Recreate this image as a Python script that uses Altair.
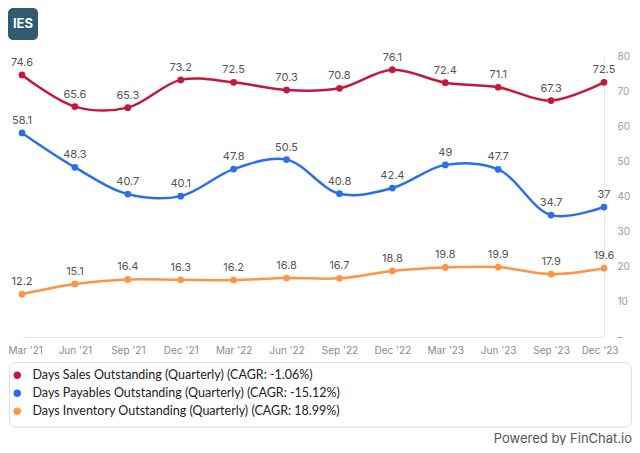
import altair as alt
import pandas as pd

quarters = ["Mar '21", "Jun '21", "Sep '21", "Dec '21", "Mar '22", "Jun '22",
            "Sep '22", "Dec '22", "Mar '23", "Jun '23", "Sep '23", "Dec '23"]
dso = [74.6, 65.6, 65.3, 73.2, 72.5, 70.3, 70.8, 76.1, 72.4, 71.1, 67.3, 72.5]
dpo = [58.1, 48.3, 40.7, 40.1, 47.8, 50.5, 40.8, 42.4, 49, 47.7, 34.7, 37]
dio = [12.2, 15.1, 16.4, 16.3, 16.2, 16.8, 16.7, 18.8, 19.8, 19.9, 17.9, 19.6]
series_names = [
    "Days Sales Outstanding (Quarterly) (CAGR: -1.06%)",
    "Days Payables Outstanding (Quarterly) (CAGR: -15.12%)",
    "Days Inventory Outstanding (Quarterly) (CAGR: 18.99%)",
]
colors = ["#C4173B", "#2B6EEA", "#FF9445"]

rows = []
for name, vals in zip(series_names, [dso, dpo, dio]):
    for q, v in zip(quarters, vals):
        rows.append({"quarter": q, "value": v, "series": name, "label": f"{v:g}"})
df = pd.DataFrame(rows)

FONT = "Inter"
LFONT = "Lato"
PL, PT = 14, 48          # plot origin inside the view
W, H = 582, 281

x_enc = alt.X("quarter:O", sort=quarters,
              scale=alt.Scale(type="point", padding=0),
              axis=alt.Axis(title=None, labelAngle=0, labelFontSize=10, labelColor="#8a8a8a",
                            labelFont=FONT, ticks=False, domainColor="#e8e8e8",
                            labelPadding=8, grid=False, labelFlush=True,
                            labelFlushOffset=14))
y_enc = alt.Y("value:Q", scale=alt.Scale(domain=[0, 80], nice=False),
              axis=alt.Axis(title=None, orient="right", values=list(range(0, 81, 10)),
                            labelExpr="datum.value == 0 ? '–' : datum.label",
                            labelFontSize=10, labelColor="#9a9a9a", labelFont=FONT,
                            ticks=False, domainColor="#e8e8e8", labelPadding=13,
                            grid=False, labelAlign="left"))
color_scale = alt.Scale(domain=series_names, range=colors)
legend = alt.Legend(title=None, orient="none", legendX=-11, legendY=313,
                    symbolType="circle", symbolSize=55, zindex=2, padding=0,
                    symbolStrokeWidth=0, symbolOpacity=1,
                    labelFontSize=12.5, labelFont=LFONT, labelColor="#222",
                    rowPadding=5, labelOffset=9, labelLimit=600)

base = alt.Chart(df)

lines = base.mark_line(interpolate="catmull-rom", strokeWidth=2.5).encode(
    x=x_enc, y=y_enc,
    color=alt.Color("series:N", scale=color_scale, legend=legend),
)
points = base.mark_circle(size=45, opacity=1).encode(
    x=x_enc, y=y_enc,
    color=alt.Color("series:N", scale=color_scale, legend=legend),
)
labels = base.mark_text(dy=-12, fontSize=11, font=FONT, color="#555").encode(
    x=x_enc, y=y_enc, text="label:N",
)

legend_box = alt.Chart(pd.DataFrame({"a": [0]})).mark_rect(
    fill="white", stroke="#dedede", strokeWidth=1, cornerRadius=7
).encode(x=alt.value(-12.5), x2=alt.value(609.5), y=alt.value(306.5), y2=alt.value(371))

powered = alt.Chart(pd.DataFrame({"t": ["Powered by FinChat.io"]})).mark_text(
    align="right", baseline="middle", fontSize=13, font=FONT, color="#555"
).encode(x=alt.value(610), y=alt.value(382.5), text="t:N")

logo_bg = alt.Chart(pd.DataFrame({"a": [0]})).mark_rect(
    fill="#2F5A72", cornerRadius=5
).encode(x=alt.value(-14), x2=alt.value(16), y=alt.value(-48), y2=alt.value(-16))
logo_txt = alt.Chart(pd.DataFrame({"t": ["IES"]})).mark_text(
    align="center", baseline="middle", fontSize=13, font=FONT, fontWeight="bold", color="white"
).encode(x=alt.value(1), y=alt.value(-32), text="t:N")

chart = alt.layer(legend_box, lines, points, labels, powered, logo_bg, logo_txt).properties(
    width=W, height=H,
    autosize=alt.AutoSizeParams(type="none"),
    padding={"left": PL, "top": PT, "right": 624 - PL - W, "bottom": 437 - PT - H},
    background="white",
).configure_view(stroke=None)

chart.save("out.html", embed_options={"renderer": "svg", "actions": False})
